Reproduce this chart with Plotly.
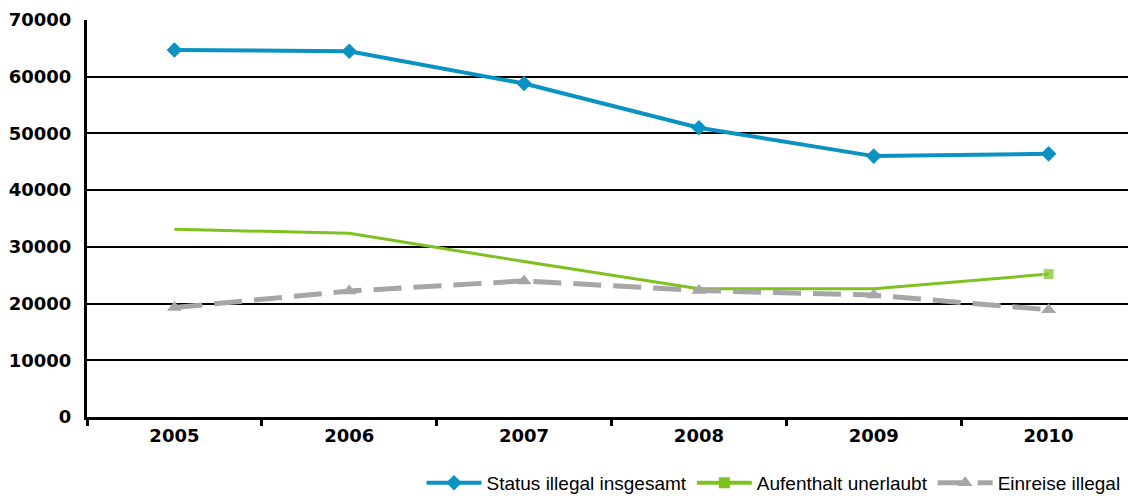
import plotly.graph_objects as go

years = ["2005", "2006", "2007", "2008", "2009", "2010"]
status_illegal = [64700, 64500, 58800, 51000, 46000, 46400]
aufenthalt = [33100, 32400, 27400, 22600, 22600, 25200]
einreise = [19300, 22200, 24000, 22300, 21500, 18900]
y_ticks = [0, 10000, 20000, 30000, 40000, 50000, 60000, 70000]

BLUE = "#0A92C2"
GREEN = "#7DC21E"
GRAY = "#A6A6A6"

fig = go.Figure()
fig.add_trace(go.Scatter(
    x=years, y=status_illegal, name="Status illegal insgesamt",
    mode="lines+markers",
    line=dict(color=BLUE, width=4),
    marker=dict(symbol="diamond", size=12, color=BLUE),
))
fig.add_trace(go.Scatter(
    x=years, y=aufenthalt, name="Aufenthalt unerlaubt",
    mode="lines+markers", showlegend=False,
    line=dict(color=GREEN, width=3),
    marker=dict(symbol="square", size=[0, 0, 0, 0, 0, 11], color=GREEN),
))
# legend entry for the green series (line with square marker)
fig.add_trace(go.Scatter(
    x=[None], y=[None], name="Aufenthalt unerlaubt",
    mode="lines+markers",
    line=dict(color=GREEN, width=4),
    marker=dict(symbol="square", size=11, color=GREEN),
))
fig.add_trace(go.Scatter(
    x=years, y=einreise, name="Einreise illegal",
    mode="lines+markers",
    line=dict(color=GRAY, width=5, dash="28px,12px"),
    marker=dict(symbol="triangle-up", size=13, color=GRAY),
))

fig.update_layout(
    width=1128, height=492,
    margin=dict(l=79, r=0, t=12, b=83, autoexpand=False),
    plot_bgcolor="white", paper_bgcolor="white",
    showlegend=True,
    legend=dict(
        orientation="h", x=0.99, xanchor="right", y=-0.118, yanchor="top",
        font=dict(family="Liberation Sans", size=19, color="black"),
        itemwidth=55, tracegroupgap=0,
    ),
    xaxis=dict(
        type="category", tickson="boundaries", ticks="outside", ticklen=6,
        tickwidth=3, tickcolor="black", automargin=False,
        showline=True, linecolor="black", linewidth=3, showgrid=False,
        tickfont=dict(family="DejaVu Sans", size=18, color="black", weight="bold"),
        range=[-0.5, 5.5],
    ),
    yaxis=dict(
        range=[0, 70000], tickvals=y_ticks, ticktext=[str(v) for v in y_ticks],
        showline=True, linecolor="black", linewidth=3, automargin=False,
        showgrid=True, gridcolor="black", gridwidth=2,
        ticks="", zeroline=False, ticklabelstandoff=9,
        tickfont=dict(family="DejaVu Sans", size=18, color="black", weight="bold"),
    ),
)

fig.write_html("out.html")
